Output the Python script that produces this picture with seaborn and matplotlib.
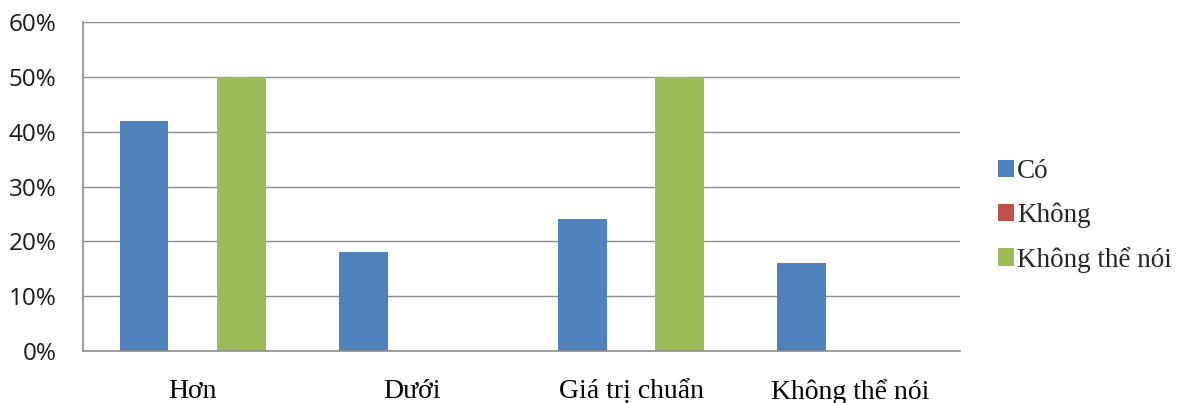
import matplotlib
matplotlib.use("Agg")
import matplotlib.pyplot as plt
import seaborn as sns
import pandas as pd
from matplotlib.ticker import FuncFormatter
from matplotlib.patches import Patch

categories = ["Hơn", "Dưới", "Giá trị chuẩn", "Không thể nói"]
series_names = ["Có", "Không", "Không thể nói"]
co = [42, 18, 24, 16]
khong = [0, 0, 0, 0]
khong_the_noi = [50, 0, 50, 0]
colors = ["#4F81BD", "#C0504D", "#9BBB59"]

rows = []
for name, vals in zip(series_names, [co, khong, khong_the_noi]):
    for c, v in zip(categories, vals):
        rows.append({"cat": c, "series": name, "value": v})
df = pd.DataFrame(rows)

sns.set_theme(style="white")
fig = plt.figure(figsize=(11.87, 4.03), dpi=100)
fig.patch.set_facecolor("white")
ax = fig.add_axes([83/1187, 1 - 351/403, (960-83)/1187, (351-22)/403])

sns.barplot(data=df, x="cat", y="value", hue="series", order=categories,
            hue_order=series_names, palette=colors, width=0.667,
            linewidth=0, saturation=1, ax=ax, legend=False)

ax.set_ylim(0, 60)
ax.set_yticks([0, 10, 20, 30, 40, 50, 60])
ax.yaxis.set_major_formatter(FuncFormatter(lambda v, p: f"{int(v)}%"))
ax.set_xlim(-0.5, 3.5)
ax.grid(axis="y", color="#8c8c8c", linewidth=1.0)
ax.set_axisbelow(True)
for s in ["top", "right"]:
    ax.spines[s].set_visible(False)
for s in ["left", "bottom"]:
    ax.spines[s].set_color("#8c8c8c")
    ax.spines[s].set_linewidth(1.2)
ax.set_xlabel("")
ax.set_ylabel("")
ax.tick_params(axis="y", length=0, pad=19, labelsize=17.5, labelcolor="#1a1a1a")
ax.tick_params(axis="x", length=0, pad=20, labelsize=20, labelcolor="#000000")
for lab in ax.get_yticklabels():
    lab.set_family("Open Sans")
for lab in ax.get_xticklabels():
    lab.set_family("Liberation Serif")

handles = [Patch(facecolor=c, edgecolor="none") for c in colors]
fig.legend(handles, series_names, loc="center left",
           bbox_to_anchor=(987/1187, 1 - 216/403), frameon=False,
           prop={"family": "Liberation Serif", "size": 19.5},
           handlelength=0.6, handleheight=0.6, handletextpad=0.12,
           labelspacing=0.68, borderaxespad=0)

fig.savefig("out.png", dpi=100, facecolor="white")
